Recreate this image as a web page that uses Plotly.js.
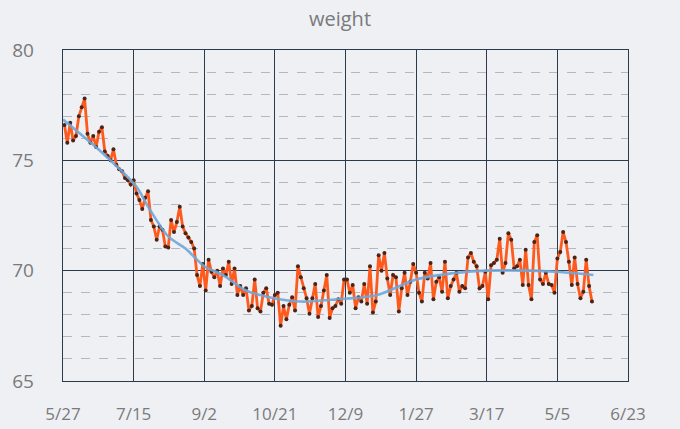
<!DOCTYPE html>
<html>
<head>
<meta charset="utf-8">
<script src="https://cdn.plot.ly/plotly-3.0.1.min.js"></script>
<style>html,body{margin:0;padding:0;background:#eef0f4;}#chart{width:680px;height:429px;}</style>
</head>
<body>
<div id="chart"></div>
<script>
// Daily weigh-ins, every 2nd day starting 2018-05-28
const startDate = '2018-05-28';
const stepDays = 2;
const weights = [
  76.6, 75.8, 76.7, 75.9, 76.1, 77.0, 77.4, 77.8, 76.2, 75.8, 76.1, 75.6, 76.3, 76.5, 75.4, 75.2, 75.0, 75.5, 74.8, 74.6, 74.5, 74.2, 74.1, 73.9, 74.1,
  73.5, 73.2, 72.8, 73.3, 73.6, 72.3, 72.0, 71.4, 72.0, 71.85, 71.1, 71.05, 72.3, 71.75, 72.2, 72.9, 72.0, 71.7, 71.5, 71.3, 71.0, 69.8, 69.3, 70.3, 69.1,
  70.5, 69.95, 69.7, 70.0, 69.3, 70.1, 69.8, 70.4, 69.4, 70.1, 68.9, 69.3, 68.9, 69.2, 68.2, 68.4, 69.6, 68.3, 68.15, 69.0, 69.2, 68.5, 68.45, 68.9, 69.0,
  67.5, 68.4, 67.8, 68.45, 68.8, 68.2, 70.2, 69.7, 69.2, 68.75, 68.05, 68.75, 69.4, 67.9, 68.4, 69.1, 69.8, 67.85, 68.3, 68.4, 68.7, 68.5, 69.6, 69.6, 69.0,
  69.35, 68.3, 68.8, 68.6, 69.4, 68.5, 70.2, 68.1, 68.6, 70.7, 70.0, 70.8, 69.65, 68.9, 69.8, 69.7, 68.15, 69.2, 69.9, 68.9, 69.5, 70.3, 69.9,
  69.0, 68.6, 69.9, 69.65, 70.35, 68.7, 69.5, 69.7, 69.05, 70.4, 68.75, 69.3, 69.6, 69.9, 69.05, 69.3, 69.2, 70.6, 70.8, 70.4, 70.2, 69.2, 69.3, 69.95, 68.7,
  70.25, 70.35, 70.5, 71.45, 69.9, 70.35, 71.7, 71.4, 70.1, 70.2, 70.5, 69.35, 70.95, 69.35, 68.7, 71.3, 71.6, 69.6, 69.4, 69.9, 69.4, 69.35, 69.0, 70.55, 70.85,
  71.75, 71.3, 70.4, 69.35, 70.6, 69.4, 68.75, 69.05, 70.5, 69.3, 68.6
];

// Smoothed trend
const trendDates = ['2018-05-27','2018-06-24','2018-07-17','2018-07-25','2018-08-08','2018-08-20','2018-09-02',
  '2018-09-15','2018-10-01','2018-10-17','2018-11-08','2018-12-03','2018-12-31','2019-01-27','2019-02-24','2019-03-17','2019-05-04','2019-05-30'];
const trendValues = [76.85, 75.3, 73.8, 72.9, 71.55, 71.0, 70.2, 69.8, 69.1, 68.8, 68.6, 68.7, 68.9, 69.6, 69.9, 70.0, 69.95, 69.8];

const tickDates = ['2018-05-27','2018-07-15','2018-09-02','2018-10-21','2018-12-09','2019-01-27','2019-03-17','2019-05-05','2019-06-23'];
const tickLabels = ['5/27','7/15','9/2','10/21','12/9','1/27','3/17','5/5','6/23'];
const yTicks = [65, 70, 75, 80];

function addDays(s, n) {
  const d = new Date(s + 'T00:00:00Z');
  d.setUTCDate(d.getUTCDate() + n);
  return d.toISOString().slice(0, 10);
}
const dates = weights.map((_, i) => addDays(startDate, i * stepDays));

const traces = [
  {
    x: dates, y: weights, type: 'scatter', mode: 'lines+markers',
    line: {color: '#ff5a1e', width: 2.8},
    marker: {color: '#4a2418', size: 4},
    hoverinfo: 'x+y'
  },
  {
    x: trendDates, y: trendValues, type: 'scatter', mode: 'lines',
    line: {color: '#6fa6d8', width: 2.6, shape: 'spline', smoothing: 0.8},
    opacity: 0.9
  }
];

const layout = {
  width: 680, height: 429,
  margin: {l: 63, r: 52, t: 50, b: 48},
  paper_bgcolor: '#eef0f4', plot_bgcolor: '#eef0f4',
  showlegend: false,
  title: {text: 'weight', x: 0.5, xanchor: 'center', y: 0.972, yanchor: 'top',
          font: {family: 'Open Sans, Liberation Sans, sans-serif', size: 20, color: '#7a7a7a'}},
  font: {family: 'Open Sans, Liberation Sans, sans-serif', color: '#7a7a7a'},
  xaxis: {
    type: 'date', range: ['2018-05-27', '2019-06-23'],
    tickmode: 'array', tickvals: tickDates, ticktext: tickLabels,
    showgrid: true, gridcolor: '#2c3a4c', gridwidth: 1.2,
    showline: true, linecolor: '#2c3a4c', linewidth: 1.3, mirror: true,
    zeroline: false, ticks: '', ticklabelstandoff: 17,
    tickfont: {size: 17, color: '#7a7a7a'}
  },
  yaxis: {
    range: [65, 80], tickmode: 'array', tickvals: yTicks,
    showgrid: true, gridcolor: '#2c3a4c', gridwidth: 1.2,
    minor: {dtick: 1, showgrid: true, gridcolor: '#b3b7bf', griddash: 'dash', gridwidth: 1},
    showline: true, linecolor: '#2c3a4c', linewidth: 1.3, mirror: true,
    zeroline: false, ticks: '', ticklabelstandoff: 24,
    tickfont: {size: 19, color: '#7a7a7a'}
  }
};

Plotly.newPlot('chart', traces, layout, {staticPlot: true, displayModeBar: false});
</script>
</body>
</html>
